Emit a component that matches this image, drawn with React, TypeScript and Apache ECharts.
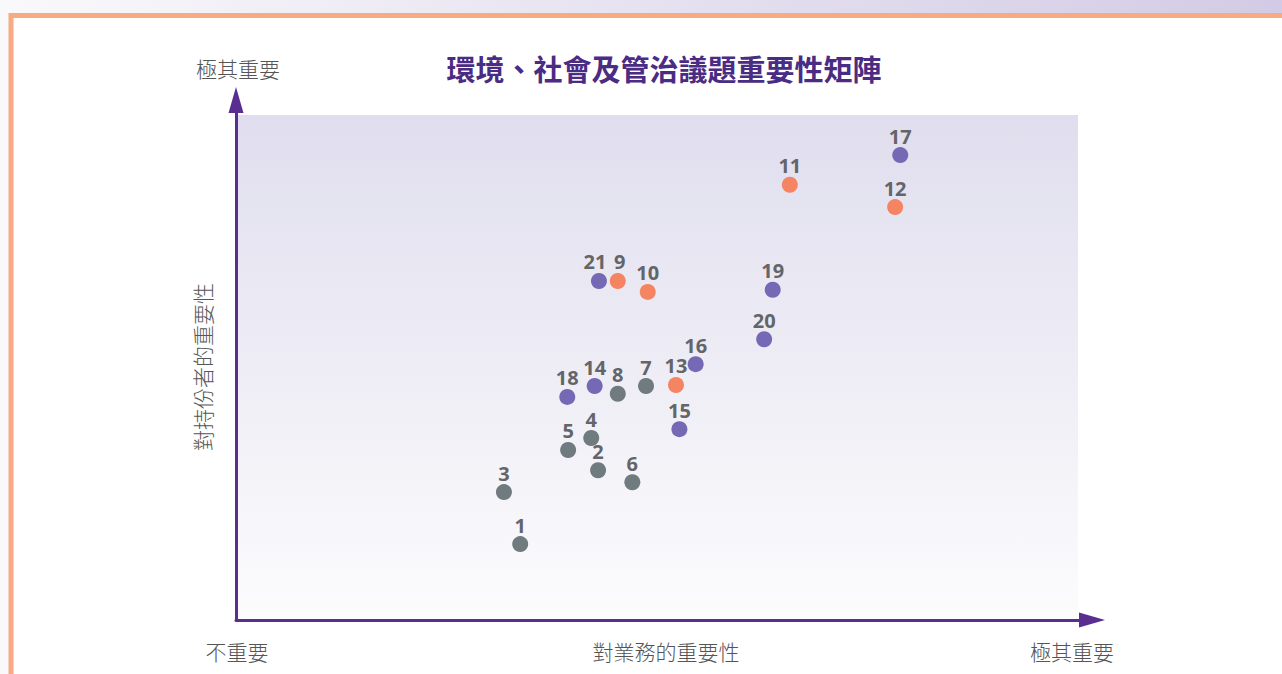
import React, { useEffect, useRef } from "react";
import * as echarts from "echarts";

const TITLE = "環境、社會及管治議題重要性矩陣";
const X_NAME = "對業務的重要性";
const Y_NAME = "對持份者的重要性";
const X_LOW = "不重要";
const HIGH = "極其重要";

// [business importance, stakeholder importance, issue number]
const greyIssues: [number, number, string][] = [
  [33.2, 14.6, "1"],
  [42.3, 28.8, "2"],
  [31.3, 24.6, "3"],
  [41.5, 35.0, "4"],
  [38.8, 32.7, "5"],
  [46.3, 26.5, "6"],
  [47.9, 45.0, "7"],
  [44.6, 43.5, "8"],
];
const orangeIssues: [number, number, string][] = [
  [44.6, 65.2, "9"],
  [48.1, 63.1, "10"],
  [64.7, 83.7, "11"],
  [77.0, 79.4, "12"],
  [51.4, 45.2, "13"],
];
const purpleIssues: [number, number, string][] = [
  [41.9, 45.0, "14"],
  [51.8, 36.7, "15"],
  [53.7, 49.2, "16"],
  [77.6, 89.4, "17"],
  [38.7, 42.9, "18"],
  [62.7, 63.5, "19"],
  [61.7, 54.0, "20"],
  [42.4, 65.2, "21"],
];

// small horizontal nudges so that adjacent labels do not touch
const LABEL_NUDGE: Record<string, number> = { "21": -4, "9": 2 };

const GREY = "#6f7b7f";
const ORANGE = "#f58462";
const PURPLE = "#7569b5";
const AXIS = "#5a2d91";
const TEXT = "#555555";

function mkSeries(name: string, data: [number, number, string][], color: string) {
  return {
    name,
    type: "scatter",
    symbolSize: 16,
    data: data.map((d) => ({
      value: [d[0], d[1]],
      name: d[2],
      label: LABEL_NUDGE[d[2]] ? { offset: [LABEL_NUDGE[d[2]], 0] } : undefined,
    })),
    itemStyle: { color, opacity: 1 },
    label: {
      show: true,
      position: "top",
      distance: 1,
      formatter: (p: any) => p.name,
      color: "#646569",
      fontFamily: "Open Sans",
      fontWeight: "bold",
      fontSize: 20,
    },
    z: 5,
  };
}

export default function App() {
  const ref = useRef<HTMLDivElement>(null);
  useEffect(() => {
    if (!ref.current) return;
    const chart = echarts.init(ref.current, undefined, { renderer: "svg" });
    const textStyle = {
      fill: TEXT,
      fontSize: 21,
      fontFamily: "Noto Sans CJK TC",
      fontWeight: 300,
    };
    chart.setOption({
      animation: false,
      backgroundColor: "#ffffff",
      grid: { left: 236, right: 190, top: 100, bottom: 54, containLabel: false },
      xAxis: {
        type: "value",
        min: 0,
        max: 100,
        axisLine: {
          show: true,
          symbol: ["none", "triangle"],
          symbolSize: [15, 26],
          lineStyle: { color: AXIS, width: 3 },
        },
        axisTick: { show: false },
        axisLabel: { show: false },
        splitLine: { show: false },
      },
      yAxis: {
        type: "value",
        min: 0,
        max: 100,
        axisLine: {
          show: true,
          symbol: ["none", "triangle"],
          symbolSize: [15, 26],
          lineStyle: { color: AXIS, width: 3 },
        },
        axisTick: { show: false },
        axisLabel: { show: false },
        splitLine: { show: false },
      },
      graphic: [
        {
          type: "rect",
          z: -20,
          silent: true,
          shape: { x: 0, y: 0, width: 1282, height: 674 },
          style: {
            fill: new echarts.graphic.LinearGradient(0, 0, 1, 0, [
              { offset: 0, color: "#f9f9fb" },
              { offset: 1, color: "#d3cbe5" },
            ]),
          },
        },
        {
          type: "rect",
          z: -19,
          silent: true,
          shape: { x: 11, y: 15.5, width: 1290, height: 680 },
          style: { fill: "#ffffff", stroke: "#f8aa82", lineWidth: 5 },
        },
        {
          type: "rect",
          z: -18,
          silent: true,
          shape: { x: 236, y: 115, width: 842, height: 505 },
          style: {
            fill: new echarts.graphic.LinearGradient(0, 0, 0, 1, [
              { offset: 0, color: "#e0deee" },
              { offset: 1, color: "#fcfcfd" },
            ]),
          },
        },
        {
          type: "text",
          x: 664,
          y: 68,
          z: 10,
          style: {
            text: TITLE,
            fill: "#4a2c84",
            fontSize: 29,
            fontWeight: "bold",
            fontFamily: "Noto Sans CJK TC",
            textAlign: "center",
            textVerticalAlign: "middle",
          },
        },
        {
          type: "text",
          x: 238,
          y: 68,
          z: 10,
          style: { ...textStyle, text: HIGH, textAlign: "center", textVerticalAlign: "middle" },
        },
        {
          type: "text",
          x: 237,
          y: 651,
          z: 10,
          style: { ...textStyle, text: X_LOW, textAlign: "center", textVerticalAlign: "middle" },
        },
        {
          type: "text",
          x: 666,
          y: 651,
          z: 10,
          style: { ...textStyle, text: X_NAME, textAlign: "center", textVerticalAlign: "middle" },
        },
        {
          type: "text",
          x: 1072,
          y: 651,
          z: 10,
          style: { ...textStyle, text: HIGH, textAlign: "center", textVerticalAlign: "middle" },
        },
        {
          type: "text",
          x: 202,
          y: 367,
          rotation: Math.PI / 2,
          z: 10,
          style: { ...textStyle, text: Y_NAME, textAlign: "center", textVerticalAlign: "middle" },
        },
      ],
      series: [
        mkSeries("grey", greyIssues, GREY),
        mkSeries("orange", orangeIssues, ORANGE),
        mkSeries("purple", purpleIssues, PURPLE),
      ],
    });
    return () => chart.dispose();
  }, []);
  return (
    <div
      ref={ref}
      style={{ position: "fixed", left: 0, top: 0, width: 1282, height: 674 }}
    />
  );
}
